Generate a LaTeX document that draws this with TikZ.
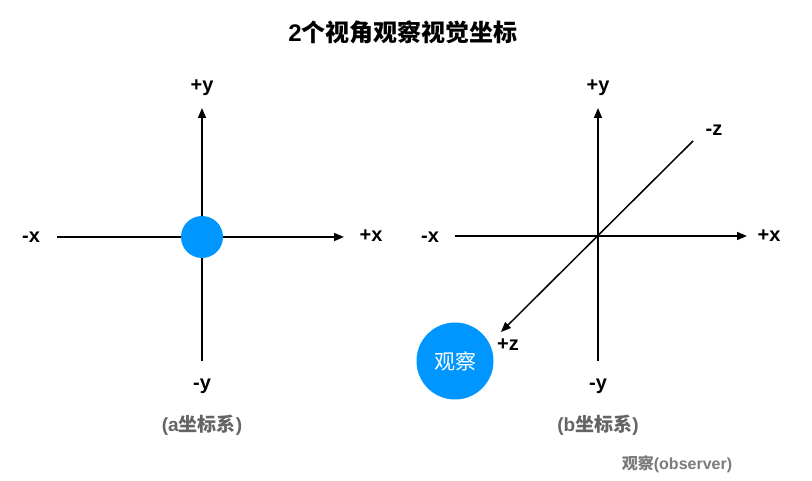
\documentclass[tikz,border=0pt]{standalone}
\usepackage{fontspec}
\setmainfont{Liberation Sans}
\newfontfamily\cjk{Noto Sans CJK SC}
\usetikzlibrary{arrows.meta}
\definecolor{viewBlue}{RGB}{0,150,255}
\definecolor{capGray}{RGB}{100,100,100}
\tikzset{viewpanel/.style={
  x=1pt, y=-1pt,
  axis/.style={line width=1.5pt, -{Triangle[length=10pt, width=8pt]}},
  axlab/.style={font=\bfseries\fontsize{20}{20}\selectfont, inner sep=0pt},
  dot/.style={circle, fill=viewBlue, draw=none, minimum size=42pt, inner sep=0pt},
  eye/.style={circle, fill=viewBlue, draw=none, minimum size=77pt, inner sep=0pt,
    text=white, font=\cjk\fontsize{21}{21}\selectfont},
  caption/.style={text=capGray, font=\bfseries\fontsize{19}{19}\selectfont, inner sep=0pt},
}}
\begin{document}
\begin{tikzpicture}[viewpanel]
\useasboundingbox (0,0) rectangle (812,481);
% title
\node[font=\bfseries\fontsize{24}{24}\selectfont, inner sep=0pt] (title) at (403,32)
  {2{\cjk 个视角观察视觉坐标}};

% ---------------- (a) ----------------
\coordinate (aO) at (202,237);
\coordinate (aL) at (57,237);
\coordinate (aR) at (344,237);
\coordinate (aT) at (202,108);
\coordinate (aB) at (202,361);
\draw[axis] (aL) -- (aR);
\draw[axis] (aB) -- (aT);
\node[dot] (aDot) at (aO) {};
\node[axlab] (aXm) at (31,237) {-x};
\node[axlab] (aXp) at (371,236) {+x};
\node[axlab] (aYp) at (202,88) {+y};
\node[axlab] (aYm) at (202,386) {-y};
\node[caption] (aCap) at (202,425) {({a\cjk 坐标系})};

% ---------------- (b) ----------------
\coordinate (bO) at (598,236);
\coordinate (bL) at (455,236);
\coordinate (bR) at (747,236);
\coordinate (bT) at (598,108);
\coordinate (bB) at (598,361);
\coordinate (bZm) at (693,141);
\coordinate (bZp) at (501,332);
\draw[axis] (bL) -- (bR);
\draw[axis] (bB) -- (bT);
\draw[axis] (bZm) -- (bZp);
\node[axlab] (bXm) at (430,237) {-x};
\node[axlab] (bXp) at (769,236) {+x};
\node[axlab] (bYp) at (598,88) {+y};
\node[axlab] (bYm) at (598,386) {-y};
\node[axlab] (bZmL) at (714,130) {-z};
\node[axlab] (bZpL) at (508,345) {+z};
\node[eye] (bEye) at (455,361) {观察};
\node[caption] (bCap) at (598,425) {({b\cjk 坐标系})};

\node[text=capGray!85, font=\bfseries\fontsize{16}{16}\selectfont, inner sep=0pt] (obsNote) at (677,464)
  {{\cjk 观察}(observer)};
\end{tikzpicture}
\end{document}
